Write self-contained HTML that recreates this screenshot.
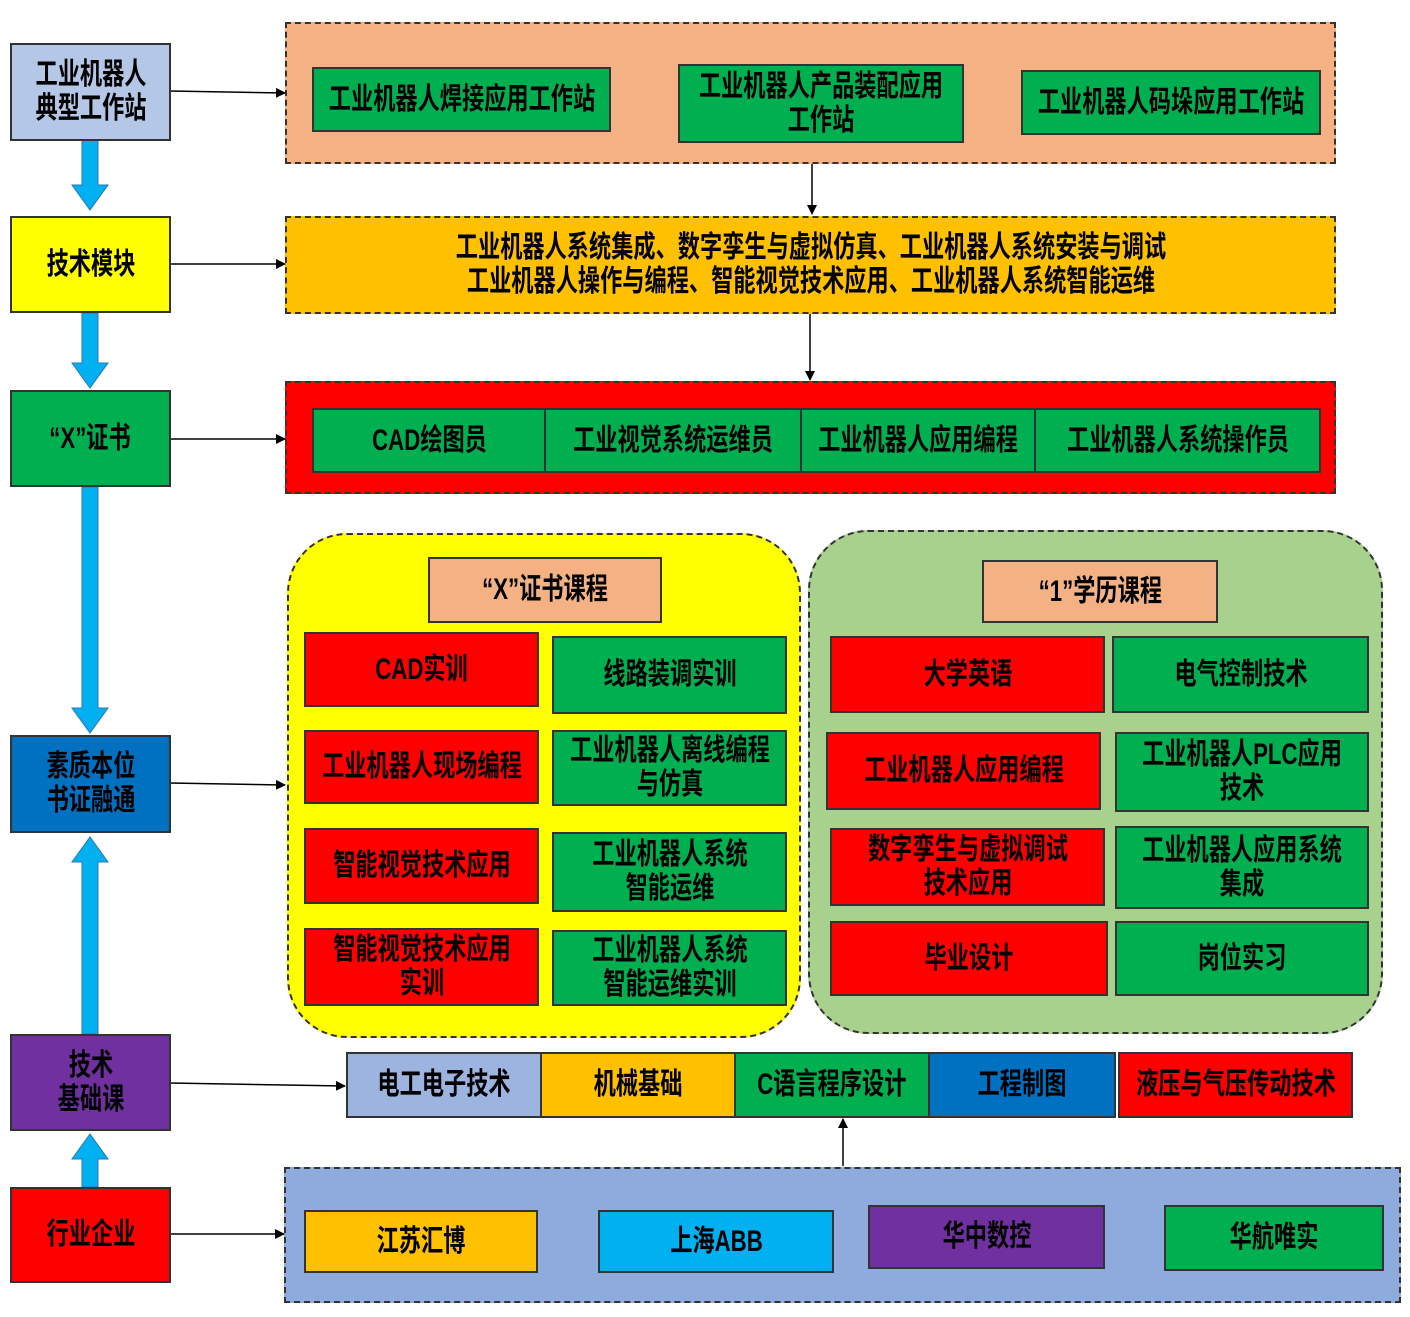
<!DOCTYPE html>
<html><head><meta charset="utf-8"><style>
body{margin:0;width:1410px;height:1317px;background:#fff;position:relative;overflow:hidden;font-family:"Liberation Sans","Noto Sans CJK SC",sans-serif;}
.b{position:absolute;box-sizing:border-box;border:2px solid #333;display:flex;align-items:center;justify-content:center;text-align:center;color:#000;font-weight:bold;font-size:30px;line-height:34px;}
.b span{display:inline-block;transform:scaleX(0.74);white-space:nowrap;}
.p{position:absolute;box-sizing:border-box;border:2px dashed #333;}
svg{position:absolute;left:0;top:0;}
</style></head><body>
<div class="p" style="left:285px;top:22px;width:1051px;height:142px;background:#f4b183"></div>
<div class="p" style="left:285px;top:216px;width:1051px;height:98px;background:#ffc000"></div>
<div class="p" style="left:285px;top:381px;width:1051px;height:113px;background:#ff0000"></div>
<div class="p" style="left:287px;top:533px;width:514px;height:505px;background:#ffff00;border-radius:60px"></div>
<div class="p" style="left:808px;top:530px;width:575px;height:504px;background:#a9d18e;border-radius:60px"></div>
<div class="p" style="left:284px;top:1167px;width:1117px;height:136px;background:#8faadc"></div>

<svg width="1410" height="1317">
<defs><marker id="a" markerWidth="10" markerHeight="10" refX="9" refY="5" orient="auto" markerUnits="userSpaceOnUse"><path d="M0,0L10,5L0,10z" fill="#000"/></marker></defs>
<g stroke="#000" stroke-width="1.5" marker-end="url(#a)">
<line x1="170" y1="91" x2="285" y2="93"/>
<line x1="170" y1="264" x2="285" y2="264"/>
<line x1="170" y1="439" x2="285" y2="439"/>
<line x1="170" y1="783" x2="285" y2="785"/>
<line x1="170" y1="1083" x2="345" y2="1086"/>
<line x1="170" y1="1234" x2="284" y2="1234"/>
<line x1="812" y1="164" x2="812" y2="214"/>
<line x1="810" y1="314" x2="810" y2="380"/>
<line x1="843" y1="1166" x2="843" y2="1119"/>
</g>
<g fill="#00b0f0" stroke="#2e75b6" stroke-width="1">
<path d="M82,140h16v45h10l-18,25l-18,-25h10z"/>
<path d="M82,313h16v50h10l-18,25l-18,-25h10z"/>
<path d="M82,487h16v221h10l-18,25l-18,-25h10z"/>
<path d="M82,1034h16v-172h10l-18,-25l-18,25h10z"/>
<path d="M82,1187h16v-28h10l-18,-25l-18,25h10z"/>
</g>
</svg>

<div class="b" style="left:10px;top:43px;width:161px;height:98px;background:#b4c7e7"><span>工业机器人<br>典型工作站</span></div>
<div class="b" style="left:10px;top:216px;width:161px;height:97px;background:#ffff00"><span>技术模块</span></div>
<div class="b" style="left:10px;top:390px;width:161px;height:97px;background:#00b050"><span>“X”证书</span></div>
<div class="b" style="left:10px;top:735px;width:161px;height:98px;background:#0070c0"><span>素质本位<br>书证融通</span></div>
<div class="b" style="left:10px;top:1034px;width:161px;height:97px;background:#7030a0"><span>技术<br>基础课</span></div>
<div class="b" style="left:10px;top:1187px;width:161px;height:96px;background:#ff0000"><span>行业企业</span></div>

<div class="b" style="left:312px;top:67px;width:299px;height:65px;background:#00b050"><span>工业机器人焊接应用工作站</span></div>
<div class="b" style="left:678px;top:64px;width:286px;height:79px;background:#00b050"><span>工业机器人产品装配应用<br>工作站</span></div>
<div class="b" style="left:1021px;top:70px;width:300px;height:65px;background:#00b050"><span>工业机器人码垛应用工作站</span></div>

<div class="b" style="left:287px;top:218px;width:1047px;height:94px;border:none;background:transparent"><span>工业机器人系统集成、数字孪生与虚拟仿真、工业机器人系统安装与调试<br>工业机器人操作与编程、智能视觉技术应用、工业机器人系统智能运维</span></div>

<div class="b" style="left:312px;top:408px;width:234px;height:65px;background:#00b050"><span>CAD绘图员</span></div>
<div class="b" style="left:544px;top:408px;width:258px;height:65px;background:#00b050"><span>工业视觉系统运维员</span></div>
<div class="b" style="left:800px;top:408px;width:236px;height:65px;background:#00b050"><span>工业机器人应用编程</span></div>
<div class="b" style="left:1034px;top:408px;width:287px;height:65px;background:#00b050"><span>工业机器人系统操作员</span></div>

<div class="b" style="left:428px;top:557px;width:234px;height:66px;background:#f4b183"><span>“X”证书课程</span></div>
<div class="b" style="left:304px;top:632px;width:235px;height:75px;background:#ff0000"><span>CAD实训</span></div>
<div class="b" style="left:552px;top:636px;width:235px;height:78px;background:#00b050"><span>线路装调实训</span></div>
<div class="b" style="left:304px;top:730px;width:235px;height:74px;background:#ff0000"><span>工业机器人现场编程</span></div>
<div class="b" style="left:552px;top:730px;width:235px;height:76px;background:#00b050"><span>工业机器人离线编程<br>与仿真</span></div>
<div class="b" style="left:304px;top:828px;width:235px;height:76px;background:#ff0000"><span>智能视觉技术应用</span></div>
<div class="b" style="left:552px;top:832px;width:235px;height:80px;background:#00b050"><span>工业机器人系统<br>智能运维</span></div>
<div class="b" style="left:304px;top:928px;width:235px;height:78px;background:#ff0000"><span>智能视觉技术应用<br>实训</span></div>
<div class="b" style="left:552px;top:930px;width:235px;height:76px;background:#00b050"><span>工业机器人系统<br>智能运维实训</span></div>

<div class="b" style="left:982px;top:560px;width:236px;height:63px;background:#f4b183"><span>“1”学历课程</span></div>
<div class="b" style="left:830px;top:636px;width:275px;height:77px;background:#ff0000"><span>大学英语</span></div>
<div class="b" style="left:1112px;top:636px;width:257px;height:77px;background:#00b050"><span>电气控制技术</span></div>
<div class="b" style="left:826px;top:732px;width:275px;height:78px;background:#ff0000"><span>工业机器人应用编程</span></div>
<div class="b" style="left:1115px;top:732px;width:254px;height:80px;background:#00b050"><span>工业机器人PLC应用<br>技术</span></div>
<div class="b" style="left:830px;top:828px;width:275px;height:78px;background:#ff0000"><span>数字孪生与虚拟调试<br>技术应用</span></div>
<div class="b" style="left:1115px;top:826px;width:254px;height:83px;background:#00b050"><span>工业机器人应用系统<br>集成</span></div>
<div class="b" style="left:830px;top:921px;width:278px;height:75px;background:#ff0000"><span>毕业设计</span></div>
<div class="b" style="left:1115px;top:921px;width:254px;height:75px;background:#00b050"><span>岗位实习</span></div>

<div class="b" style="left:346px;top:1052px;width:196px;height:66px;background:#9db3e0"><span>电工电子技术</span></div>
<div class="b" style="left:540px;top:1052px;width:196px;height:66px;background:#ffc000"><span>机械基础</span></div>
<div class="b" style="left:734px;top:1052px;width:196px;height:66px;background:#00b050"><span>C语言程序设计</span></div>
<div class="b" style="left:928px;top:1052px;width:188px;height:66px;background:#0070c0"><span>工程制图</span></div>
<div class="b" style="left:1118px;top:1052px;width:235px;height:66px;background:#ff0000"><span>液压与气压传动技术</span></div>

<div class="b" style="left:304px;top:1210px;width:234px;height:63px;background:#ffc000"><span>江苏汇博</span></div>
<div class="b" style="left:598px;top:1210px;width:236px;height:63px;background:#00b0f0"><span>上海ABB</span></div>
<div class="b" style="left:868px;top:1205px;width:237px;height:64px;background:#7030a0"><span>华中数控</span></div>
<div class="b" style="left:1164px;top:1205px;width:220px;height:66px;background:#00b050"><span>华航唯实</span></div>
</body></html>
